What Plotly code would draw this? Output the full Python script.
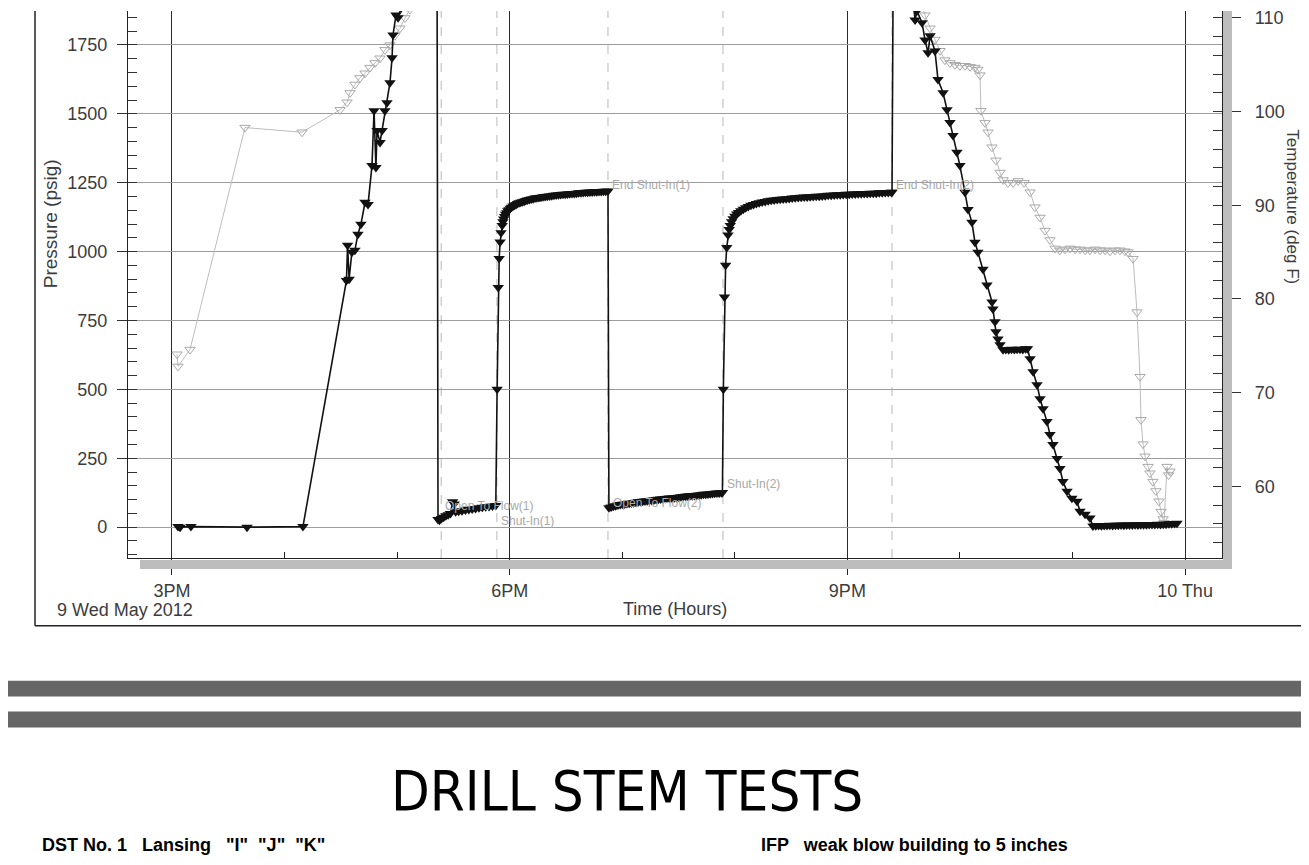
import pandas as pd
import plotly.graph_objects as go

# ---------------- data ----------------
start = pd.Timestamp("2012-05-09 15:00")

# Pressure (psig): minutes after 3PM and value
p_minutes = [
    3.2, 4.3, 10.1, 40.0, 69.8,
    93.0, 93.6, 94.4, 95.9, 97.5, 99.1, 100.7, 102.9, 104.5, 106.6, 107.7, 108.7, 109.3,
    110.9, 112.0, 113.5, 114.6, 116.2, 117.3, 117.8, 119.4, 120.5, 122.1, 123.7, 127.0, 133.0, 141.3,
    # flow 1
    141.8, 142.6, 143.6, 144.8, 146.0, 147.2, 148.4, 149.6, 150.4, 151.2, 152.8, 154.6, 156.4,
    158.2, 160.0, 161.8, 163.6, 165.4, 167.2, 169.0, 170.8, 172.6,
    # shut-in 1
    173.3, 173.9, 174.4, 174.9, 175.4, 176.0, 176.4, 176.8, 177.3, 177.8, 178.4, 179.0, 179.6,
    180.3, 181.0, 181.8, 182.6, 183.4, 184.2, 185.0, 185.9, 186.8, 187.7, 188.6, 189.5, 190.5,
    191.5, 192.5, 193.5, 194.5, 195.6, 196.7, 197.8, 198.9, 200.0, 201.2, 202.4, 203.6, 204.8,
    206.0, 207.2, 208.4, 209.6, 210.8, 212.0, 213.2, 214.4, 215.6, 216.8, 218.0, 219.2, 220.4,
    221.6, 222.8, 224.0, 225.2, 226.4, 227.6, 228.8, 230.0, 231.2, 232.4,
    # flow 2
    232.9, 234.1, 235.3, 236.5, 237.7, 238.9, 240.1, 241.3, 242.5, 243.7, 244.9, 246.1, 247.3,
    248.5, 249.7, 250.9, 252.1, 253.3, 254.5, 255.7, 256.9, 258.1, 259.3, 260.5, 261.7, 262.9,
    264.1, 265.3, 266.5, 267.7, 268.9, 270.1, 271.3, 272.5, 273.7, 274.9, 276.1, 277.3, 278.5,
    279.7, 280.9, 282.1, 283.3, 284.5, 285.7, 286.9, 288.1, 289.3, 290.5, 291.7, 292.9, 293.4,
    # shut-in 2
    293.9, 294.5, 295.1, 295.7, 296.4, 297.0, 297.6, 298.3, 299.1, 300.0, 301.0, 302.0, 303.2,
    304.5, 305.8, 307.2, 308.6, 310.0, 311.5, 313.0, 314.6, 316.2, 317.8, 319.4, 321.0, 322.6,
    324.2, 325.8, 327.4, 329.0, 330.6, 332.2, 333.8, 335.4, 337.0, 338.6, 340.2, 341.8, 343.4,
    345.0, 346.6, 348.2, 349.8, 351.4, 353.0, 354.6, 356.2, 357.8, 359.4, 361.0, 362.6, 364.2,
    365.8, 367.4, 369.0, 370.6, 372.2, 373.8, 375.4, 377.0, 378.6, 380.2, 381.8, 383.4, 383.8,
    # pull out of hole
    384.4, 390.0, 394.5,
    396.1, 397.1, 399.8, 401.4, 403.0, 404.1, 406.7, 408.3, 411.0, 413.1, 414.7, 416.3, 418.4,
    420.0, 422.7, 424.3, 426.4, 428.0, 429.6, 432.3, 434.4, 437.1, 437.6, 438.7, 439.2, 440.3,
    441.4, 443.0, 444.5, 446.0, 447.5, 449.0, 450.5, 452.0, 453.5, 455.0, 456.0,
    457.4, 459.0, 461.1, 462.7, 464.3, 466.4, 468.0, 469.6, 471.8, 473.3, 474.9, 477.1, 479.7,
    482.4, 484.0, 486.7, 489.3, 490.9,
    492.4, 493.9, 495.4, 496.9, 498.4, 499.9, 501.4, 502.9, 504.4, 505.9, 507.4, 508.9, 510.4,
    511.9, 513.4, 514.9, 516.4, 517.9, 519.4, 520.9, 522.4, 523.9, 525.4, 526.9, 528.4, 529.9,
    531.4, 532.9, 534.4, 535.7,
]
p_psig = [
    2, 0, 2, 0, 2,
    895, 1023, 900, 998, 1005, 1063, 1099, 1179, 1171, 1312, 1511, 1305, 1439,
    1396, 1439, 1511, 1540, 1613, 1703, 1786, 1858, 1848, 1884, 1938, 1985, 2010, 2015,
    # flow 1
    28, 25, 31, 36, 41, 45, 50, 92, 84, 56, 58, 60, 62,
    64, 66, 68, 70, 72, 74, 75, 77, 79,
    # shut-in 1
    500, 870, 975, 1035, 1068, 1095, 1108, 1118, 1127, 1135, 1141, 1148, 1152,
    1157, 1161, 1165, 1168, 1171, 1174, 1177, 1179, 1181, 1183, 1185, 1187, 1189,
    1191, 1192, 1194, 1195, 1196, 1197, 1199, 1200, 1201, 1202, 1203, 1204, 1205,
    1206, 1207, 1208, 1208, 1209, 1210, 1211, 1211, 1212, 1213, 1213, 1214, 1215,
    1215, 1216, 1216, 1217, 1217, 1218, 1218, 1219, 1219, 1220,
    # flow 2
    70, 73, 76, 78, 80, 82, 83, 84, 86, 87, 88, 89, 90,
    92, 93, 94, 95, 96, 97, 98, 99, 100, 101, 102, 103, 104,
    105, 106, 106, 107, 108, 109, 110, 111, 112, 113, 114, 114, 115,
    116, 117, 118, 119, 119, 120, 121, 122, 123, 124, 124, 125, 126,
    # shut-in 2
    500, 835, 950, 1015, 1060, 1080, 1095, 1108, 1119, 1128, 1136, 1142, 1148,
    1154, 1159, 1164, 1168, 1171, 1174, 1177, 1180, 1182, 1184, 1186, 1187, 1189,
    1190, 1191, 1192, 1193, 1194, 1195, 1196, 1197, 1198, 1198, 1199, 1200, 1201,
    1201, 1202, 1203, 1204, 1204, 1205, 1206, 1206, 1207, 1208, 1208, 1209, 1209,
    1210, 1210, 1211, 1211, 1212, 1212, 1212, 1213, 1213, 1214, 1214, 1215, 1215,
    # pull out of hole
    1990, 2000, 1950,
    1840, 1873, 1830, 1768, 1721, 1783, 1728, 1624, 1576, 1515, 1468, 1421, 1360,
    1312, 1215, 1153, 1106, 1034, 998, 936, 879, 817, 792, 745, 709, 683,
    662, 644, 645, 644, 646, 645, 646, 646, 645, 647, 647,
    611, 564, 517, 466, 430, 383, 336, 300, 249, 213, 166, 130, 105,
    94, 58, 47, 33, 4,
    5, 6, 5, 6, 6, 7, 6, 7, 7, 8, 7, 8, 8,
    8, 9, 8, 9, 9, 9, 10, 10, 10, 11, 10, 11, 11,
    12, 12, 13, 14,
]

# Temperature (deg F): minutes after 3PM and value
t_minutes = [
    2.7, 3.2, 9.6, 38.9, 69.3, 89.6,
    93.3, 94.9, 97.5, 100.2, 102.9, 105.5, 108.2, 110.9, 113.5, 116.2, 118.8, 121.5, 124.2,
    126.8, 129.5, 135.0, 150.0, 180.0, 250.0, 330.0, 390.0, 396.5,
    398.7, 401.4, 404.1, 406.7, 409.4, 412.0, 414.7, 417.4, 420.0, 422.7, 425.4, 428.0, 429.6,
    430.7, 431.2, 433.4, 435.0, 437.1, 439.2, 441.4, 443.0, 445.6, 448.3, 451.0, 454.2,
    457.4, 460.0, 462.7, 465.4, 468.0, 470.7, 473.3, 476.0, 478.7, 481.4, 484.0, 486.7,
    489.3, 492.0, 494.7, 497.4, 500.0, 502.7, 505.3, 508.0, 509.6, 512.3,
    514.4, 516.0, 516.5, 517.6, 518.7, 520.3, 521.3, 522.9, 524.5, 526.1, 527.2, 528.3, 528.8,
    530.4, 531.2, 532.0,
]
t_degf = [
    74.1, 72.8, 74.6, 98.3, 97.8, 100.2,
    101.0, 102.0, 102.9, 103.6, 104.1, 104.7, 105.2, 105.7, 106.6, 107.1, 108.1, 108.9, 110.0,
    110.9, 111.8, 113.5, 115.5, 117.0, 118.0, 118.5, 118.0, 114.0,
    112.0, 110.3, 108.9, 107.7, 106.5, 105.5, 105.2, 105.0, 104.9, 104.9, 104.8, 104.7, 104.5,
    103.9, 100.1, 98.8, 97.8, 96.2, 94.8, 93.5, 92.7, 92.4, 92.4, 92.6, 92.4,
    91.4, 89.8, 88.7, 87.3, 86.3, 85.4, 85.2, 85.3, 85.4, 85.3, 85.3, 85.2,
    85.2, 85.3, 85.2, 85.2, 85.1, 85.2, 85.2, 85.1, 85.0, 84.3,
    78.6, 71.7, 67.1, 64.5, 63.2, 62.1, 61.4, 60.5, 59.5, 58.4, 57.3, 56.5, 56.1,
    62.1, 61.2, 61.6,
]

# Test events
event_labels = ["Open To Flow(1)", "Shut-In(1)", "End Shut-In(1)",
                "Open To Flow(2)", "Shut-In(2)", "End Shut-In(2)"]
event_minutes = [143.5, 173.2, 232.4, 232.9, 293.7, 383.8]
event_label_psig = [78, 22, 1240, 87, 155, 1240]
event_line_minutes = [143.5, 173.2, 232.4, 293.7, 383.8]

tick_minutes = [0, 180, 360, 540]
tick_labels = ["3PM", "6PM", "9PM", "10 Thu"]
minor_tick_minutes = [60, 120, 240, 300, 420, 480]

# ---------------- helpers ----------------
OFF = 8                      # page body margin of the html file
W, H = 1309 - OFF, 865 - 2 * OFF
def fx(px):
    return (px - OFF) / W
def fy(py):
    return 1 - (py - OFF) / H
def ts(m):
    return start + pd.Timedelta(seconds=round(m * 60))

FONT = "Liberation Sans, Arial, sans-serif"
TXT = "#3c3c3c"

fig = go.Figure()

fig.add_trace(go.Scatter(
    x=[ts(m) for m in t_minutes], y=t_degf, yaxis="y", mode="lines+markers",
    line=dict(color="#bdbdbd", width=1),
    marker=dict(symbol="triangle-down-open", size=9, color="#a9a9a9", line=dict(width=1)),
    showlegend=False, name="Temperature"))

fig.add_trace(go.Scatter(
    x=[ts(m) for m in p_minutes], y=p_psig, yaxis="y2", mode="lines+markers",
    line=dict(color="#111111", width=1.6),
    marker=dict(symbol="triangle-down", size=10, color="#111111"),
    showlegend=False, name="Pressure"))

shapes = []
for m in event_line_minutes:
    shapes.append(dict(type="line", xref="x", yref="paper", x0=ts(m), x1=ts(m),
                       y0=fy(557), y1=1.0,
                       line=dict(color="#b8b8b8", width=1, dash="dash"), layer="below"))

# shadow bands of the chart frame
shapes.append(dict(type="rect", xref="paper", yref="paper", x0=fx(140), x1=fx(1232),
                   y0=fy(568), y1=fy(559), fillcolor="#bdbdbd", line=dict(width=0), layer="above"))
shapes.append(dict(type="rect", xref="paper", yref="paper", x0=fx(1223), x1=fx(1232),
                   y0=fy(568), y1=1.0, fillcolor="#bdbdbd", line=dict(width=0), layer="above"))
# outer frame
shapes.append(dict(type="line", xref="paper", yref="paper", x0=fx(35), x1=fx(35),
                   y0=fy(625), y1=1.0, line=dict(color="#222", width=1.5), layer="above"))
shapes.append(dict(type="line", xref="paper", yref="paper", x0=fx(35), x1=1.0,
                   y0=fy(625), y1=fy(625), line=dict(color="#222", width=1.5), layer="above"))
# page separator bars
for y0, y1 in [(680, 696), (711, 727)]:
    shapes.append(dict(type="rect", xref="paper", yref="paper", x0=0, x1=1,
                       y0=fy(y1), y1=fy(y0), fillcolor="#666666", line=dict(width=0), layer="above"))

annotations = []
for lab, m, p in zip(event_labels, event_minutes, event_label_psig):
    annotations.append(dict(x=ts(m), y=p, xref="x", yref="y2", text=lab, showarrow=False,
                            xanchor="left", yanchor="middle", xshift=2,
                            font=dict(family=FONT, size=12, color="#a8a8a8")))

annotations += [
    dict(x=fx(195), y=fy(609), xref="paper", yref="paper", text="9 Wed May 2012",
         showarrow=False, xanchor="right", yanchor="middle", font=dict(family=FONT, size=18, color=TXT)),
    dict(x=fx(675), y=fy(608), xref="paper", yref="paper", text="Time (Hours)",
         showarrow=False, xanchor="center", yanchor="middle", font=dict(family=FONT, size=18, color=TXT)),
    dict(x=fx(50), y=fy(222), xref="paper", yref="paper", text="Pressure (psig)", textangle=-90,
         showarrow=False, xanchor="center", yanchor="middle", font=dict(family=FONT, size=19, color=TXT)),
    dict(x=fx(1293), y=fy(204), xref="paper", yref="paper", text="Temperature (deg F)", textangle=90,
         showarrow=False, xanchor="center", yanchor="middle", borderpad=0,
         font=dict(family=FONT, size=17, color=TXT)),
    dict(x=fx(627), y=fy(790), xref="paper", yref="paper", text="DRILL STEM TESTS",
         showarrow=False, xanchor="center", yanchor="middle",
         font=dict(family="Liberation Sans Narrow, Arial Narrow, DejaVu Sans Condensed, sans-serif",
                   size=56, color="#000")),
    dict(x=fx(40), y=fy(857), xref="paper", yref="paper", text="<b>DST No. 1   Lansing   \"I\"  \"J\"  \"K\"</b>",
         showarrow=False, xanchor="left", yanchor="bottom", font=dict(family=FONT, size=18, color="#000")),
    dict(x=fx(759), y=fy(857), xref="paper", yref="paper", text="<b>IFP   weak blow building to 5 inches</b>",
         showarrow=False, xanchor="left", yanchor="bottom", font=dict(family=FONT, size=18, color="#000")),
]

x_range = [ts(-23.45), ts(559.7)]
p_top = (526 - OFF) / 0.27657        # pressure at the top edge of the visible plot
t_top = 60 + (485 - OFF) / 9.4       # temperature at the top edge

fig.update_layout(
    width=W, height=H,
    margin=dict(l=0, r=0, t=0, b=0),
    paper_bgcolor="white", plot_bgcolor="white",
    font=dict(family=FONT, size=18, color=TXT),
    xaxis=dict(
        domain=[fx(128), fx(1222)], range=x_range, type="date",
        tickmode="array", tickvals=[ts(m) for m in tick_minutes], ticktext=tick_labels,
        ticks="outside", ticklen=16, tickwidth=1.3, tickcolor="#222",
        showgrid=True, gridcolor="#2a2a2a", gridwidth=1.3,
        showline=True, linecolor="#222", linewidth=1.3, zeroline=False,
        tickfont=dict(family=FONT, size=18, color=TXT),
        minor=dict(tickmode="array", tickvals=[ts(m) for m in minor_tick_minutes],
                   ticks="inside", ticklen=6, tickcolor="#222", showgrid=False),
    ),
    yaxis=dict(
        domain=[fy(557), 1.0], range=[52.34, t_top], side="right", anchor="x",
        tick0=0, dtick=10, ticks="outside", ticklen=18, tickcolor="#333",
        showgrid=False, zeroline=False, showline=True, linecolor="#222", linewidth=1.3,
        tickfont=dict(family=FONT, size=18, color=TXT), ticklabelstandoff=10,
        ticklabeloverflow="allow",
        minor=dict(dtick=2, ticks="inside", ticklen=9, tickcolor="#333"),
    ),
    yaxis2=dict(
        overlaying="y", side="left", anchor="x", range=[-112.1, p_top],
        tick0=0, dtick=250, ticks="outside", ticklen=10, tickcolor="#333",
        showgrid=True, gridcolor="#9c9c9c", gridwidth=1, zeroline=False,
        showline=True, linecolor="#222", linewidth=1.3,
        tickfont=dict(family=FONT, size=18, color=TXT), ticklabelstandoff=6,
        ticklabeloverflow="allow",
        minor=dict(dtick=50, ticks="inside", ticklen=9, tickcolor="#333"),
    ),
    shapes=shapes,
    annotations=annotations,
)

fig.write_html("out.html")
